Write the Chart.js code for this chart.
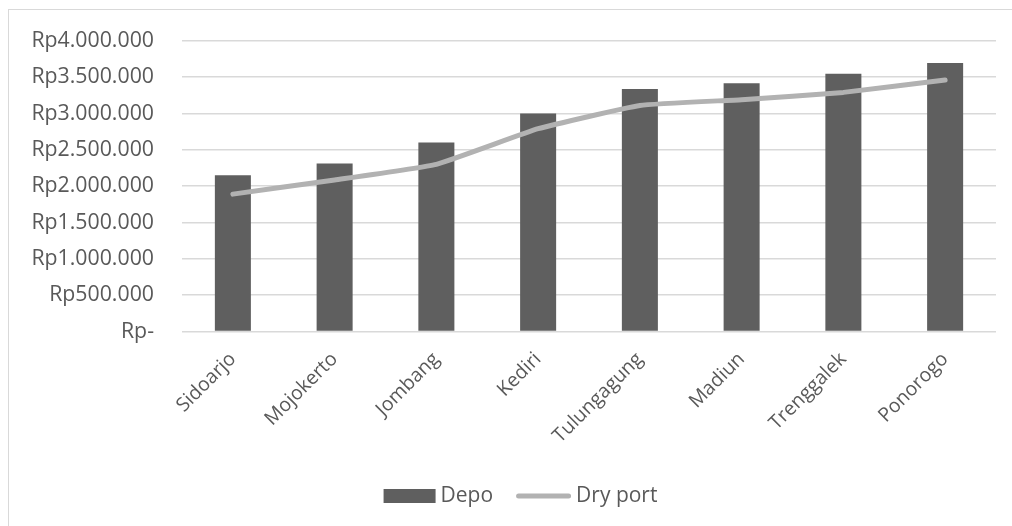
<!DOCTYPE html>
<html>
<head>
<meta charset="utf-8">
<script src="https://cdn.jsdelivr.net/npm/chart.js@4/dist/chart.umd.min.js"></script>
<style>
  html, body { margin: 0; padding: 0; background: #ffffff; }
  #frame {
    position: absolute; left: 8px; top: 9px; right: 0; bottom: 0;
    border-left: 1.5px solid #d9d9d9; border-top: 1.5px solid #d9d9d9;
  }
  #wrap { position: absolute; left: 0; top: 0; width: 1012px; height: 526px; }
</style>
</head>
<body>
<div id="frame"></div>
<div id="wrap"><canvas id="c" width="1012" height="526"></canvas></div>
<script>
// Biaya per kota: depo vs dry port (Rupiah)
const cities = ['Sidoarjo', 'Mojokerto', 'Jombang', 'Kediri', 'Tulungagung', 'Madiun', 'Trenggalek', 'Ponorogo'];
const depoCost = [2150000, 2310000, 2600000, 3000000, 3335000, 3415000, 3545000, 3695000];
const dryPortCost = [1890000, 2085000, 2300000, 2790000, 3110000, 3190000, 3290000, 3460000];
const yTicks = [0, 500000, 1000000, 1500000, 2000000, 2500000, 3000000, 3500000, 4000000];

const FONT = '"Open Sans", "DejaVu Sans", sans-serif';
const TEXT = '#595959';
const BAR = '#5f5f5f';
const LINE = '#b2b2b2';

function rupiah(v) {
  if (v === 0) return 'Rp-';
  return 'Rp' + String(v).replace(/\B(?=(\d{3})+(?!\d))/g, '.');
}

// Category names, slanted 45° with their upper end at each category centre
const slantedLabels = {
  id: 'slantedLabels',
  afterDraw(chart) {
    const ctx = chart.ctx;
    const xs = chart.scales.x;
    const y0 = chart.chartArea.bottom + 24.5;
    ctx.save();
    ctx.font = '19.5px ' + FONT;
    ctx.fillStyle = TEXT;
    ctx.textAlign = 'right';
    ctx.textBaseline = 'middle';
    chart.data.labels.forEach((lab, i) => {
      ctx.save();
      ctx.translate(xs.getPixelForValue(i), y0);
      ctx.rotate(-Math.PI / 4);
      ctx.fillText(lab, 0, 0);
      ctx.restore();
    });
    ctx.restore();
  }
};

// Legend under the plot: filled box for the bars, stroke for the line
const bottomLegend = {
  id: 'bottomLegend',
  afterDraw(chart) {
    const ctx = chart.ctx;
    const bar = chart.data.datasets.find(d => d.type === 'bar');
    const line = chart.data.datasets.find(d => d.type === 'line');
    const cy = 496;
    ctx.save();
    ctx.font = '21px ' + FONT;
    ctx.textBaseline = 'middle';
    const w0 = ctx.measureText(bar.label).width;
    const w1 = ctx.measureText(line.label).width;
    const total = 52 + 5 + w0 + 23 + 55 + 5 + w1;
    let x = chart.width / 2 + 14.5 - total / 2;
    ctx.fillStyle = bar.backgroundColor;
    ctx.fillRect(x, cy - 7, 52, 14);
    x += 57;
    ctx.fillStyle = TEXT;
    ctx.fillText(bar.label, x, cy);
    x += w0 + 23;
    ctx.strokeStyle = line.borderColor;
    ctx.lineWidth = 5;
    ctx.lineCap = 'round';
    ctx.beginPath();
    ctx.moveTo(x + 2.5, cy);
    ctx.lineTo(x + 52.5, cy);
    ctx.stroke();
    x += 60;
    ctx.fillText(line.label, x, cy);
    ctx.restore();
  }
};

new Chart(document.getElementById('c'), {
  data: {
    labels: cities,
    datasets: [
      {
        type: 'line',
        label: 'Dry port',
        data: dryPortCost,
        borderColor: LINE,
        borderWidth: 5,
        borderCapStyle: 'round',
        borderJoinStyle: 'round',
        pointRadius: 0,
        tension: 0.12,
        order: 0
      },
      {
        type: 'bar',
        label: 'Depo',
        data: depoCost,
        backgroundColor: BAR,
        borderWidth: 0,
        barPercentage: 0.354,
        categoryPercentage: 1.0,
        order: 1
      }
    ]
  },
  options: {
    responsive: false,
    animation: false,
    layout: { padding: { left: 0, right: 16, top: 39, bottom: 0 } },
    plugins: {
      legend: { display: false },
      tooltip: { enabled: false }
    },
    scales: {
      x: {
        grid: { display: false, drawTicks: false },
        border: { display: false },
        afterFit(scale) { scale.height = 194.5; },
        ticks: { display: false }
      },
      y: {
        min: 0,
        max: 4000000,
        afterFit(scale) { scale.width = 182; },
        afterBuildTicks(scale) { scale.ticks = yTicks.map(v => ({ value: v })); },
        grid: { color: '#d9d9d9', lineWidth: 1.5, drawTicks: false },
        border: { display: false },
        ticks: {
          color: TEXT,
          font: { family: FONT, size: 21.3 },
          padding: 28,
          callback: v => rupiah(v)
        }
      }
    }
  },
  plugins: [slantedLabels, bottomLegend]
});
</script>
</body>
</html>
